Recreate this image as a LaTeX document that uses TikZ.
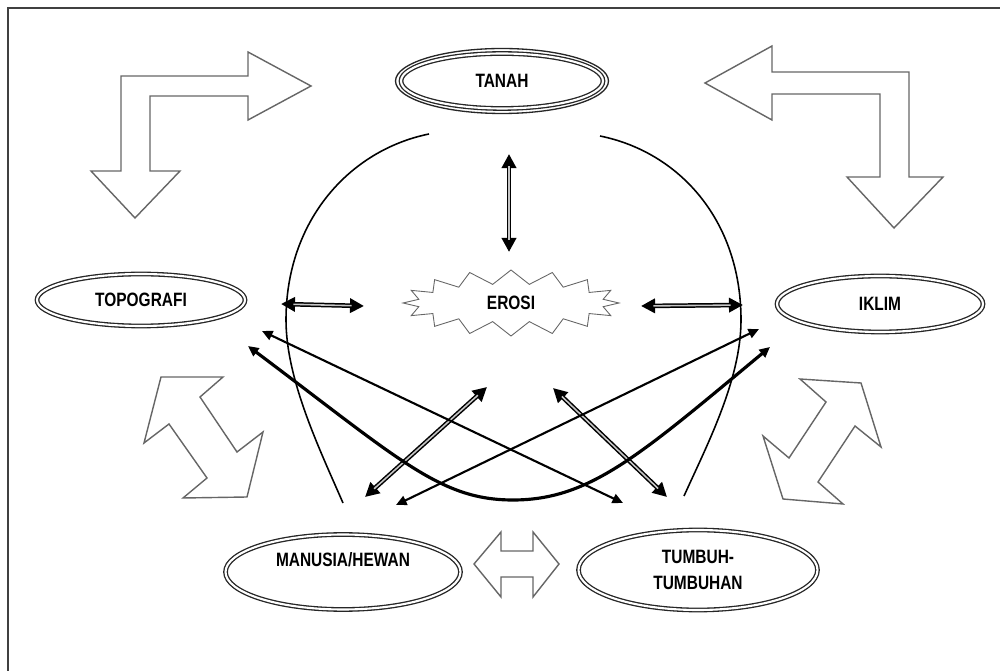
\documentclass[tikz,border=0pt]{standalone}
\usepackage{fontspec}
\newfontfamily\lblfont{Liberation Sans}[FakeStretch=0.8]
\usetikzlibrary{shapes.geometric,shapes.symbols,arrows.meta}

\tikzset{
  lbl/.style={font=\lblfont\bfseries\fontsize{11}{15.3}\selectfont},
  oval/.style={ellipse, draw=black!85, line width=0.75pt, double=white, double distance=1.2pt, inner sep=0pt, lbl},
  block/.style={draw=black!60, line width=0.8pt, fill=white, line join=miter},
  rim/.style={line width=0.9pt},
  single/.style={line width=1.2pt, {Triangle[length=6pt,width=5.5pt]}-{Triangle[length=6pt,width=5.5pt]}},
  twin/.style={line width=2.6pt, {Triangle[length=8pt,width=8pt]}-{Triangle[length=8pt,width=8pt]},
    postaction={draw=gray!45, line width=0.9pt, -, shorten <=7pt, shorten >=7pt}}
}

\begin{document}
\begin{tikzpicture}[x=0.02cm,y=-0.02cm]
\useasboundingbox (0,0) rectangle (1000,671);
\fill[white] (0,0) rectangle (1000,671);
\draw[black!75, line width=1.2pt] (8,671) -- (8,8) -- (1000,8);

% factors
\node (tanah) [oval, minimum width=4.04cm, minimum height=1.1cm] at (502,81) {TANAH};
\draw[draw=black!85, line width=0.75pt] (tanah.center) ellipse [x radius=2.13cm, y radius=0.65cm];
\node (topo) [oval, minimum width=4.16cm, minimum height=1.04cm] at (141,300) {TOPOGRAFI};
\node (iklim) [oval, minimum width=4.12cm, minimum height=1.12cm] at (880,304) {IKLIM};
\node (manusia) [oval, minimum width=4.7cm, minimum height=1.5cm, text height=8pt, text depth=13.8pt] at (343,572) {MANUSIA/HEWAN};
\node (tumbuh) [oval, minimum width=4.78cm, minimum height=1.6cm, align=center] at (698,570) {TUMBUH-\\TUMBUHAN};
\node (erosi) [starburst, starburst points=16, starburst point height=0.28cm, random starburst=0,
  draw=black!60, line width=0.5pt, minimum width=4.32cm, minimum height=1.32cm, inner sep=0pt, lbl] at (511,303) {EROSI};

% block arrows
\draw[block] (121,76) -- (248,76) -- (248,52) -- (311,86) -- (248,120) -- (248,96) -- (150,96)
  -- (150,171) -- (180,171) -- (135,218) -- (91,171) -- (121,171) -- cycle;
\draw[block] (705,83) -- (772,46) -- (772,72) -- (909,72) -- (909,177) -- (943,177) -- (894,228)
  -- (847,177) -- (880,177) -- (880,94) -- (772,94) -- (772,120) -- cycle;
\draw[block] (161,377) -- (223,377) -- (200,397) -- (237,452) -- (263,432) -- (247,497) -- (183,498)
  -- (207,478) -- (169,424) -- (144,443) -- cycle;
\draw[block] (800,379) -- (861,383) -- (881,447) -- (855,426) -- (818,482) -- (843,504) -- (783,499)
  -- (763,436) -- (789,458) -- (826,402) -- cycle;
\draw[block] (474,564) -- (501,532) -- (501,551) -- (533,551) -- (533,532) -- (559,564) -- (533,597)
  -- (533,577) -- (501,577) -- (501,597) -- cycle;

% arc ends and arrow ends
\coordinate (arcLa) at (429,134);
\coordinate (arcLb) at (343,503);
\coordinate (arcRa) at (600,136);
\coordinate (arcRb) at (684,496);
\coordinate (tanahEnd) at (509,154);
\coordinate (erosiTop) at (509,252);
\coordinate (topoEnd) at (281,304);
\coordinate (erosiL) at (364,306);
\coordinate (erosiR) at (641,306);
\coordinate (iklimEnd) at (743,305);
\coordinate (erosiBL) at (487,387);
\coordinate (manusiaEnd) at (365,497);
\coordinate (erosiBR) at (553,388);
\coordinate (tumbuhEnd) at (667,497);
\coordinate (topoA) at (262,331);
\coordinate (tumbuhA) at (623,503);
\coordinate (iklimA) at (759,329);
\coordinate (manusiaA) at (396,505);
\coordinate (topoB) at (248,346);
\coordinate (iklimB) at (770,347);

\draw[rim] (arcLa) .. controls (350,150) and (286,220) .. (286,320)
  .. controls (286,380) and (320,450) .. (arcLb);
\draw[rim] (arcRa) .. controls (679,152) and (741,220) .. (741,320)
  .. controls (741,380) and (707,445) .. (arcRb);

\draw[twin] (tanahEnd) -- (erosiTop);
\draw[twin] (topoEnd) -- (erosiL);
\draw[twin] (erosiR) -- (iklimEnd);
\draw[twin] (erosiBL) -- (manusiaEnd);
\draw[twin] (erosiBR) -- (tumbuhEnd);

\draw[single] (topoA) -- (tumbuhA);
\draw[single] (iklimA) -- (manusiaA);
\draw[single, line width=1.8pt] (topoB) .. controls (400,460) and (440,500) .. (513,500)
  .. controls (590,500) and (640,455) .. (iklimB);
\end{tikzpicture}
\end{document}
